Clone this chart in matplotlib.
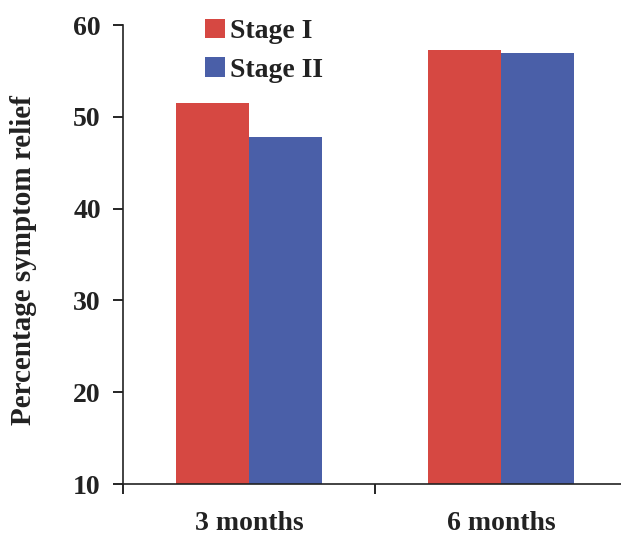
import matplotlib
matplotlib.use("Agg")
import matplotlib.pyplot as plt
import numpy as np

categories = ["3 months", "6 months"]
series_names = ["Stage I", "Stage II"]
stage1 = [51.5, 57.3]
stage2 = [47.8, 57.0]
yticks = [10, 20, 30, 40, 50, 60]

colors = ["#d64842", "#4a5fa8"]

plt.rcParams['font.family'] = ['Liberation Serif', 'DejaVu Serif']
plt.rcParams['font.weight'] = 'bold'

fig = plt.figure(figsize=(6.21, 5.36), dpi=100)
ax = fig.add_axes([123/621, 1-484/536, 504/621, (484-25)/536])

x = np.arange(len(categories)) + 0.5
w = 0.288
ax.bar(x - w/2, stage1, width=w, bottom=0, color=colors[0], label=series_names[0])
ax.bar(x + w/2, stage2, width=w, bottom=0, color=colors[1], label=series_names[1])

ax.set_xlim(0, 2)
ax.set_ylim(10, 60)
ax.set_yticks(yticks)
ax.set_yticklabels([str(t) for t in yticks], fontsize=20, fontweight='bold', color='#222222')
ax.set_xticks([0, 1, 2])
ax.set_xticklabels([])
ax.set_xticks(x, minor=True)
ax.set_xticklabels(categories, minor=True, fontsize=20, fontweight='bold', color='#222222')
ax.tick_params(axis='x', which='minor', length=0, pad=19.5)
ax.tick_params(axis='x', which='major', length=7, width=1.2, direction='out')
ax.tick_params(axis='y', length=7, width=1.2, direction='out', pad=9)

for s in ['top', 'right']:
    ax.spines[s].set_visible(False)
for s in ['left', 'bottom']:
    ax.spines[s].set_linewidth(1.2)
    ax.spines[s].set_color('#222222')

ax.set_ylabel("Percentage symptom relief", fontsize=21, fontweight='bold', color='#222222')
ax.yaxis.set_label_coords(-0.171, 0.488)

leg = ax.legend(loc='upper left', bbox_to_anchor=(0.163, 1.014), frameon=False,
                prop={'size': 20, 'weight': 'bold'}, handlelength=0.7, handleheight=0.7,
                handletextpad=0.2, labelspacing=0.48, borderpad=0, borderaxespad=0)
for t in leg.get_texts():
    t.set_color('#222222')

fig.savefig("out.png", dpi=100)
